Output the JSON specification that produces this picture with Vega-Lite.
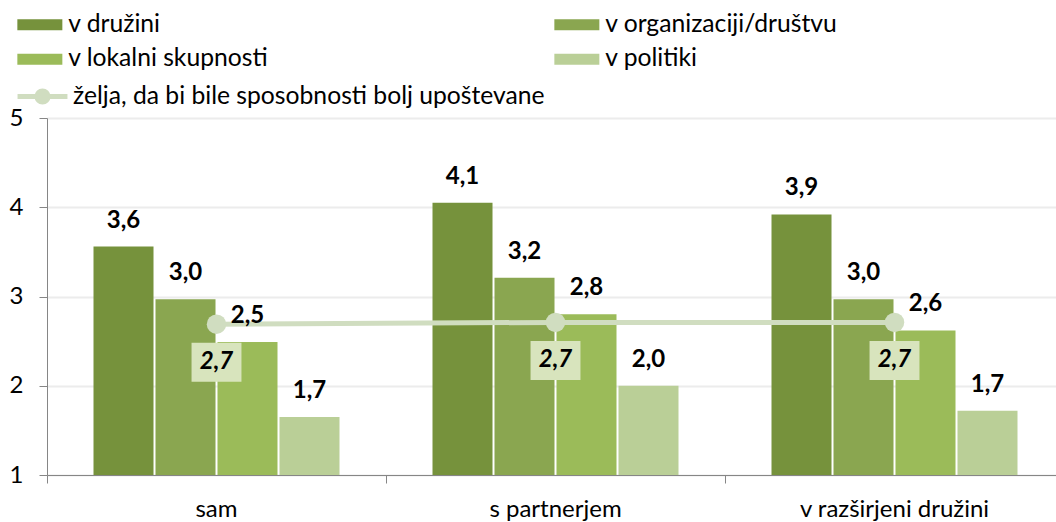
{
  "$schema": "https://vega.github.io/schema/vega-lite/v6.json",
  "width": 1009,
  "height": 357,
  "autosize": {"type": "none"},
  "padding": {"left": 47, "top": 118, "right": 0, "bottom": 47},
  "background": "white",
  "config": {
    "font": "Lato",
    "view": {"stroke": null},
    "axis": {"labelFont": "Lato", "labelColor": "#000000", "title": null}
  },
  "datasets": {
    "bars": [
      {"grp": "sam", "series": "v družini", "value": 3.56, "label": "3,6"},
      {"grp": "sam", "series": "v organizaciji/društvu", "value": 2.97, "label": "3,0"},
      {"grp": "sam", "series": "v lokalni skupnosti", "value": 2.49, "label": "2,5"},
      {"grp": "sam", "series": "v politiki", "value": 1.65, "label": "1,7"},
      {"grp": "s partnerjem", "series": "v družini", "value": 4.05, "label": "4,1"},
      {"grp": "s partnerjem", "series": "v organizaciji/društvu", "value": 3.21, "label": "3,2"},
      {"grp": "s partnerjem", "series": "v lokalni skupnosti", "value": 2.8, "label": "2,8"},
      {"grp": "s partnerjem", "series": "v politiki", "value": 2.0, "label": "2,0"},
      {"grp": "v razširjeni družini", "series": "v družini", "value": 3.92, "label": "3,9"},
      {"grp": "v razširjeni družini", "series": "v organizaciji/društvu", "value": 2.97, "label": "3,0"},
      {"grp": "v razširjeni družini", "series": "v lokalni skupnosti", "value": 2.62, "label": "2,6"},
      {"grp": "v razširjeni družini", "series": "v politiki", "value": 1.72, "label": "1,7"}
    ],
    "line": [
      {"grp": "sam", "series": "želja, da bi bile sposobnosti bolj upoštevane", "value": 2.69, "label": "2,7"},
      {"grp": "s partnerjem", "series": "želja, da bi bile sposobnosti bolj upoštevane", "value": 2.71, "label": "2,7"},
      {"grp": "v razširjeni družini", "series": "želja, da bi bile sposobnosti bolj upoštevane", "value": 2.71, "label": "2,7"}
    ]
  },
  "encoding": {
    "x": {
      "field": "grp",
      "type": "nominal",
      "sort": ["sam", "s partnerjem", "v razširjeni družini"],
      "scale": {"range": [0, 1017], "paddingInner": 0, "paddingOuter": 0},
      "axis": {
        "labelAngle": 0,
        "labelFontSize": 24,
        "labelPadding": 14,
        "labelLimit": 500,
        "tickSize": 8,
        "bandPosition": 0,
        "domainColor": "#868686",
        "tickColor": "#868686",
        "grid": false
      }
    },
    "y": {
      "field": "value",
      "type": "quantitative",
      "scale": {"domain": [1, 5], "nice": false, "zero": false},
      "axis": {
        "values": [1, 2, 3, 4, 5],
        "labelFontSize": 24,
        "labelPadding": 16,
        "tickSize": 8,
        "domainColor": "#868686",
        "tickColor": "#868686",
        "gridColor": "#ececec",
        "gridWidth": 2
      }
    }
  },
  "layer": [
    {
      "data": {"name": "bars"},
      "mark": {"type": "bar"},
      "encoding": {
        "xOffset": {
          "field": "series",
          "type": "nominal",
          "sort": ["v družini", "v organizaciji/društvu", "v lokalni skupnosti", "v politiki"],
          "scale": {"paddingInner": 0.032, "paddingOuter": 0.75}
        },
        "y2": {"datum": 1},
        "fill": {
          "field": "series",
          "type": "nominal",
          "sort": ["v družini", "v organizaciji/društvu", "v lokalni skupnosti", "v politiki"],
          "scale": {
            "domain": ["v družini", "v organizaciji/društvu", "v lokalni skupnosti", "v politiki"],
            "range": ["#76923c", "#8aa650", "#9bbb59", "#bacf97"]
          },
          "legend": {
            "title": null,
            "orient": "none",
            "legendX": -19.5,
            "legendY": -106,
            "columns": 2,
            "values": ["v družini", "v lokalni skupnosti", "v organizaciji/društvu", "v politiki"],
            "columnPadding": 285,
            "rowPadding": 9,
            "padding": 0,
            "symbolType": "M-1.875,-0.46H1.875V0.46H-1.875Z",
            "symbolSize": 576,
            "symbolStrokeWidth": 0,
            "labelOffset": 16,
            "labelFontSize": 24.7,
            "labelFont": "Lato",
            "labelColor": "#000000",
            "labelLimit": 400
          }
        }
      }
    },
    {
      "data": {"name": "line"},
      "mark": {"type": "line", "strokeWidth": 5},
      "encoding": {
        "stroke": {
          "field": "series",
          "type": "nominal",
          "scale": {"range": ["#d0ddc0"]},
          "legend": {
            "title": null,
            "orient": "none",
            "legendX": -19,
            "legendY": -36,
            "padding": 0,
            "symbolType": "M-2.08,0H2.08M-0.46,0A0.46,0.46,0,1,0,0.46,0A0.46,0.46,0,1,0,-0.46,0Z",
            "symbolSize": 576,
            "symbolStrokeWidth": 5,
            "labelOffset": 16,
            "labelFontSize": 24.7,
            "labelFont": "Lato",
            "labelColor": "#000000",
            "labelLimit": 700,
            "encode": {"symbols": {"update": {"fill": {"value": "#d0ddc0"}, "stroke": {"value": "#d0ddc0"}}}}
          }
        }
      }
    },
    {
      "data": {"name": "line"},
      "mark": {"type": "point", "filled": true, "size": 380, "color": "#d0ddc0", "opacity": 1},
      "encoding": {}
    },
    {
      "data": {"name": "line"},
      "mark": {"type": "point", "filled": true, "shape": "M-1.28,-1H1.28V1H-1.28Z", "size": 1521, "color": "#d8e4bd", "opacity": 1, "yOffset": 38},
      "encoding": {}
    },
    {
      "data": {"name": "line"},
      "mark": {"type": "text", "fontSize": 24, "fontWeight": "bold", "fontStyle": "italic", "font": "Lato", "color": "#000000", "baseline": "middle", "align": "center", "yOffset": 38},
      "encoding": {"text": {"field": "label"}}
    },
    {
      "data": {"name": "bars"},
      "mark": {"type": "text", "fontSize": 24, "fontWeight": "bold", "font": "Lato", "color": "#000000", "baseline": "middle", "align": "center", "dy": -26},
      "encoding": {
        "xOffset": {
          "field": "series",
          "type": "nominal",
          "sort": ["v družini", "v organizaciji/društvu", "v lokalni skupnosti", "v politiki"],
          "scale": {"paddingInner": 0.032, "paddingOuter": 0.75}
        },
        "text": {"field": "label"}
      }
    }
  ]
}
